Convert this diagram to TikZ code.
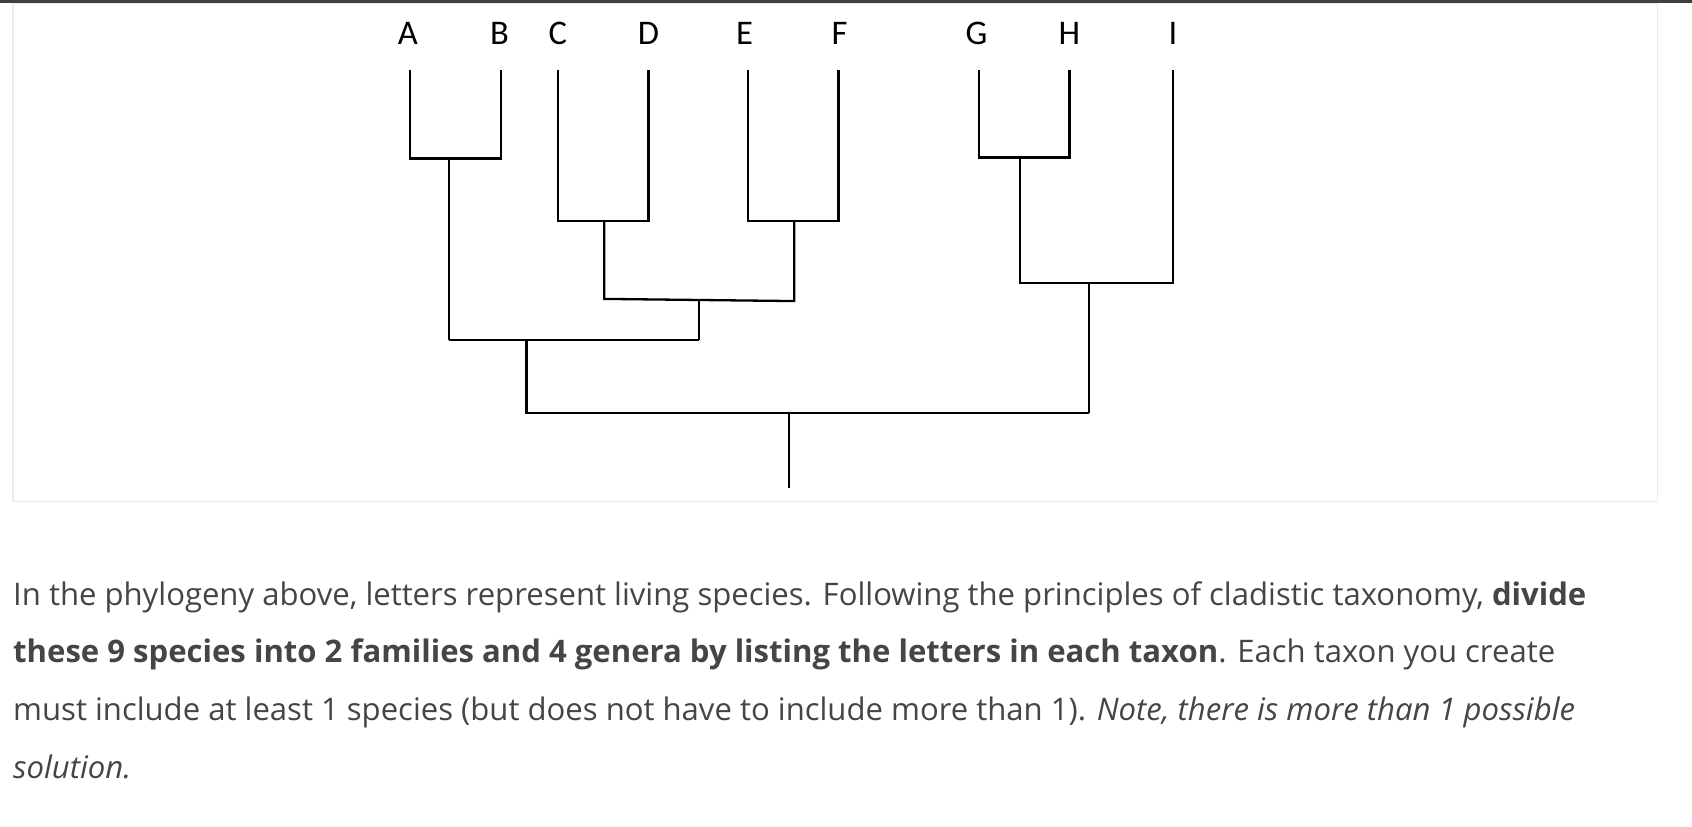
\documentclass[tikz,border=0pt]{standalone}
\usepackage{fontspec}
\setmainfont{Open Sans}
\newfontfamily\labfont{Carlito}
\begin{document}
\begin{tikzpicture}[x=0.75pt,y=-0.75pt,
  br/.style={line width=1.6pt,black},
  lab/.style={font=\labfont\fontsize{24}{24}\selectfont},
  txt/.style={anchor=base west,inner sep=0,text=black!73,font=\fontsize{21.6}{26}\selectfont}]
\useasboundingbox (0,0) rectangle (1568,765.5);
\fill[black!75] (0,0) rectangle (1568,3);
\draw[black!8,line width=1pt] (12,3) rectangle (1536,465);
\foreach \n/\x in {A/378,B/463,C/517,D/601,E/690,F/778,G/905,H/991,I/1087}
  \node[lab] (\n) at (\x,31) {\n};
\draw[br] (380,65)--(380,147)--(464,147)--(464,65);
\draw[br] (416,147)--(416,315);
\draw[br] (517,65)--(517,205)--(601,205)--(601,65);
\draw[br] (693,65)--(693,205)--(777,205)--(777,65);
\draw[br] (560,205)--(560,277)--(736,279)--(736,205);
\draw[br] (648,278)--(648,315);
\draw[br] (416,315)--(648,315);
\draw[br] (907,65)--(907,146)--(991,146)--(991,65);
\draw[br] (945,146)--(945,262)--(1087,262)--(1087,65);
\draw[br] (1009,262)--(1009,383);
\draw[br] (488,315)--(488,383)--(1009,383);
\draw[br] (731,383)--(731,452);
\node[txt] (l1) at (12,561) {In the phylogeny above, letters represent living species. Following the principles of cladistic taxonomy, \textbf{divide}};
\node[txt] (l2) at (12,614) {\textbf{these 9 species into 2 families and 4 genera by listing the letters in each taxon}. Each taxon you create};
\node[txt] (l3) at (12,668) {must include at least 1 species (but does not have to include more than 1). \textit{Note, there is more than 1 possible}};
\node[txt] (l4) at (12,721) {\textit{solution.}};
\end{tikzpicture}
\end{document}
